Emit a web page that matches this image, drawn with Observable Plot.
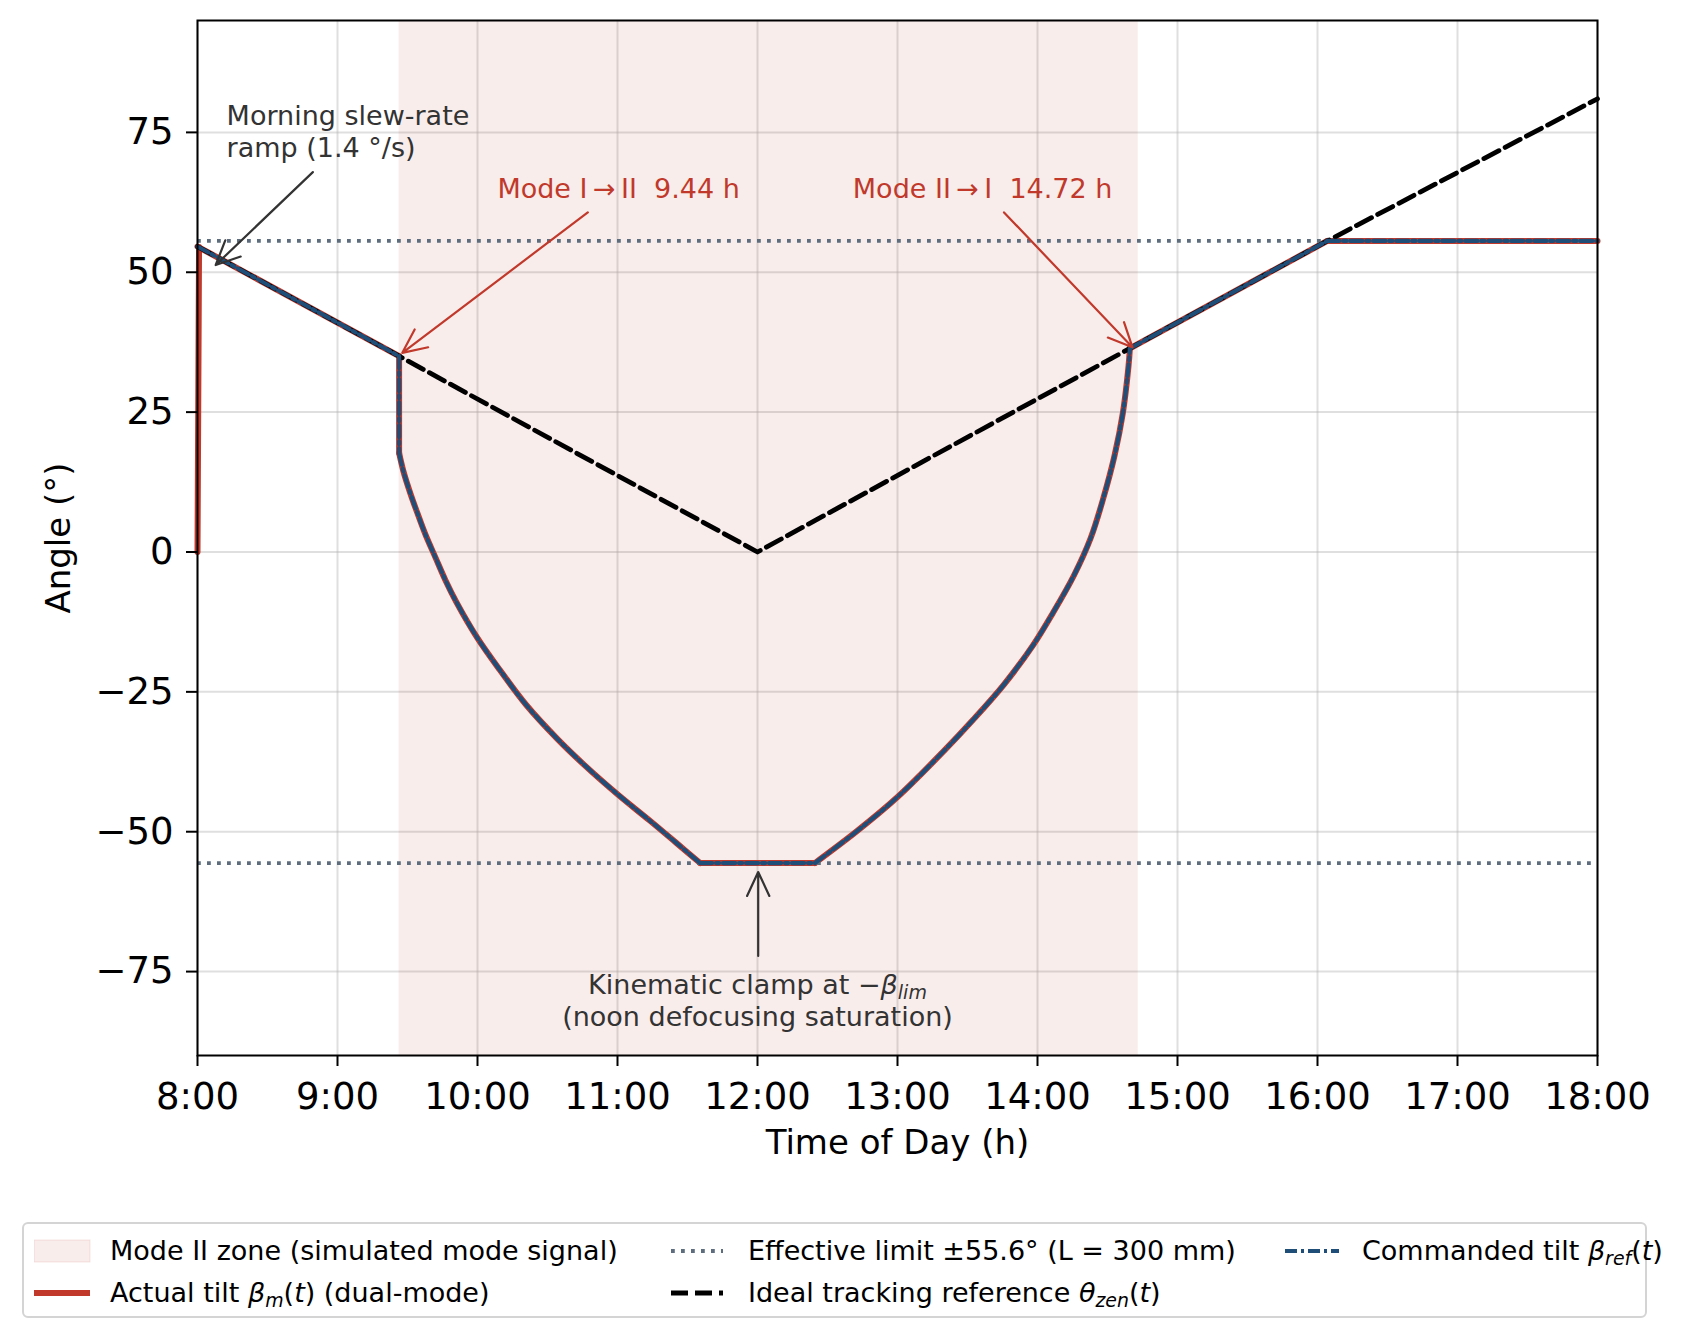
<!DOCTYPE html>
<html>
<head>
<meta charset="utf-8">
<script src="https://cdn.jsdelivr.net/npm/d3@7"></script>
<script src="https://cdn.jsdelivr.net/npm/@observablehq/plot@0.6"></script>
<style>
  html, body { margin: 0; padding: 0; background: #fff; }
  #wrap { position: relative; width: 1691px; height: 1336px; font-family: "DejaVu Sans", sans-serif; }
  svg text { white-space: pre; }
  #legend { position: absolute; left: 22px; top: 1222px; width: 1625px; height: 96px; box-sizing: border-box;
            border: 2px solid #d4d4d4; border-radius: 6px; background: #fff; font-size: 27px; color: #000; }
  .item { position: absolute; height: 40px; white-space: pre; }
  .item svg { position: absolute; left: 0; top: 0; }
  .item span { position: absolute; top: 50%; transform: translateY(-52%); white-space: pre; }
  sub { font-size: 0.7em; vertical-align: -0.25em; line-height: 0; }
</style>
</head>
<body>
<div id="wrap">
  <div id="chart"></div>
  <div id="legend"></div>
</div>
<script>
// ---------------- data ----------------
const xTicks = [8, 9, 10, 11, 12, 13, 14, 15, 16, 17, 18];
const yTicks = [-75, -50, -25, 0, 25, 50, 75];

// Mode II zone (hours)
const modeIIStart = 9.44;
const modeIIEnd = 14.72;

// Effective limit (deg)
const betaLim = 55.6;

// Ideal tracking reference theta_zen(t)
const idealT = [8.00, 9.44, 12.00, 14.66, 16.07, 18.00];
const idealV = [54.6, 35.0, 0.0, 36.4, 55.6, 81.0];

// Commanded tilt beta_ref(t)
const cmdT = [8.00, 9.44, 9.44, 9.47, 9.52, 9.57, 9.63, 9.70, 9.77, 9.85, 10.00, 10.16, 10.35, 10.57, 10.76,
              11.00, 11.23, 11.42, 11.59, 12.41, 12.71, 13.00, 13.33, 13.54, 13.76, 13.97, 14.11, 14.26,
              14.38, 14.47, 14.55, 14.61, 14.65, 14.66, 16.07, 18.00];
const cmdV = [54.6, 35.0, 17.7, 14.5, 10.5, 7.0, 3.0, -1.0, -5.0, -9.0, -15.4, -21.1, -27.4, -33.4, -38.0,
              -43.3, -48.0, -52.0, -55.6, -55.6, -49.9, -43.8, -35.6, -30.0, -23.7, -16.6, -10.9, -4.2,
              2.5, 9.6, 17.2, 24.9, 33.2, 36.4, 55.6, 55.6];
// indices in cmd arrays where the path changes from straight to curved pieces
const cmdBreaks = [0, 1, 2, 18, 19, 33, 34, 35];

// Actual tilt beta_m(t): morning slew ramp from 0 (1.4 °/s), then same path as commanded
const rampT = [8.000, 8.011];
const rampV = [0.0, 54.5];

// Annotations (data coordinates)
const annoLeft = [
  {t: 8.208, v: 75.3, text: "Morning slew-rate\nramp (1.4 °/s)", color: "#333333"}
];
const annoCenter = [
  {t: 11.008, v: 65.1, text: "Mode I\u2009\u2192\u2009II  9.44 h", color: "#c0392b"},
  {t: 13.608, v: 65.1, text: "Mode II\u2009\u2192\u2009I  14.72 h", color: "#c0392b"},
  {t: 12.0, v: -80.0, text: "Kinematic clamp at −βLIM\n(noon defocusing saturation)", color: "#333333"}
];
const annoArrows = [
  {t1: 8.824, v1: 67.9, t2: 8.130, v2: 51.3, color: "#333333"},
  {t1: 10.788, v1: 60.7, t2: 9.463, v2: 35.6, color: "#c0392b"},
  {t1: 13.761, v1: 60.7, t2: 14.678, v2: 36.6, color: "#c0392b"},
  {t1: 12.005, v1: -72.2, t2: 12.005, v2: -57.2, color: "#333333"}
];

// ---------------- tables ----------------
const ideal = idealT.map((t, i) => ({t, v: idealV[i]}));
// split the commanded path into pieces (straight pieces have 2 points, curved pieces many)
function pieces(T, V, breaks, prefix) {
  const out = [];
  for (let k = 0; k < breaks.length - 1; k++) {
    for (let i = breaks[k]; i <= breaks[k + 1]; i++) out.push({t: T[i], v: V[i], seg: prefix + k});
  }
  return out;
}
const commanded = pieces(cmdT, cmdV, cmdBreaks, "c");
const actual = rampT.map((t, i) => ({t, v: rampV[i], seg: "ramp"})).concat(pieces(cmdT, cmdV, cmdBreaks, "a"));

const RED = "#c0392b", BLUE = "#1f4e79", SLATE = "#5d6d7e";

const chart = Plot.plot({
  width: 1691,
  height: 1200,
  marginLeft: 197,
  marginRight: 94,
  marginTop: 20,
  marginBottom: 145,
  x: {domain: [8, 18]},
  y: {domain: [-90, 95]},
  style: {fontFamily: "DejaVu Sans", fontSize: "37px", color: "black", background: "white", overflow: "visible"},
  marks: [
    Plot.gridX(xTicks, {stroke: "#b0b0b0", strokeOpacity: 0.4, strokeWidth: 2}),
    Plot.gridY(yTicks, {stroke: "#b0b0b0", strokeOpacity: 0.4, strokeWidth: 2}),
    Plot.rectX([{a: modeIIStart, b: modeIIEnd}], {x1: "a", x2: "b", fill: RED, fillOpacity: 0.09}),
    Plot.line(actual, {x: "t", y: "v", z: "seg", stroke: RED, strokeWidth: 6, strokeLinecap: "round",
                       strokeLinejoin: "round", curve: "catmull-rom"}),
    Plot.ruleY([betaLim, -betaLim], {stroke: SLATE, strokeWidth: 3.8, strokeDasharray: "3.8,6.2"}),
    Plot.line(ideal, {x: "t", y: "v", stroke: "black", strokeWidth: 4.8, strokeDasharray: "17,7"}),
    Plot.line(commanded, {x: "t", y: "v", z: "seg", stroke: BLUE, strokeWidth: 4.2, strokeDasharray: "12,4,3,4",
                          curve: "catmull-rom"}),
    Plot.arrow(annoArrows, {x1: "t1", y1: "v1", x2: "t2", y2: "v2", stroke: "color", strokeWidth: 2.2,
                            headLength: 18, headAngle: 50}),
    Plot.text(annoLeft, {x: "t", y: "v", text: "text", fill: "color", textAnchor: "start", lineAnchor: "middle",
                         fontSize: 27, lineHeight: 1.18}),
    Plot.text(annoCenter, {x: "t", y: "v", text: "text", fill: "color", textAnchor: "middle", lineAnchor: "middle",
                           fontSize: 27, lineHeight: 1.18}),
    Plot.frame({stroke: "black", strokeWidth: 2}),
    Plot.axisX(xTicks, {tickFormat: d => `${d}:00`, tickSize: 11, tickPadding: 16, strokeWidth: 2, label: null, fontSize: 37}),
    Plot.axisY(yTicks, {tickSize: 11, tickPadding: 13, strokeWidth: 2, label: null, fontSize: 37}),
    Plot.text(["Time of Day (h)"], {frameAnchor: "bottom", dy: 88, textAnchor: "middle", lineAnchor: "middle", fontSize: 34}),
    Plot.text(["Angle (°)"], {frameAnchor: "left", dx: -138, rotate: -90, textAnchor: "middle", lineAnchor: "middle", fontSize: 34})
  ]
});

// render the −β_lim mathtext with italic + subscript
chart.querySelectorAll("tspan, text").forEach(el => {
  if (el.childElementCount === 0 && el.textContent.endsWith("−βLIM")) {
    el.textContent = "Kinematic clamp at −";
    const ns = "http://www.w3.org/2000/svg";
    const b = document.createElementNS(ns, "tspan");
    b.setAttribute("font-style", "italic");
    b.textContent = "β";
    const s = document.createElementNS(ns, "tspan");
    s.setAttribute("font-style", "italic");
    s.setAttribute("font-size", "19");
    s.setAttribute("baseline-shift", "-5");
    s.textContent = "lim";
    el.appendChild(b);
    el.appendChild(s);
  }
});
document.getElementById("chart").appendChild(chart);

// ---------------- legend ----------------
const legendItems = [
  {x: 10, y: 7, swatch: `<rect x="0" y="9" width="56" height="22" fill="${RED}" fill-opacity="0.09" stroke="${RED}" stroke-opacity="0.12"/>`,
   label: "Mode II zone (simulated mode signal)"},
  {x: 10, y: 49, swatch: `<line x1="0" y1="20" x2="56" y2="20" stroke="${RED}" stroke-width="6"/>`,
   label: "Actual tilt <i>β</i><sub><i>m</i></sub>(<i>t</i>) (dual-mode)"},
  {x: 647, y: 7, swatch: `<line x1="0" y1="20" x2="52" y2="20" stroke="${SLATE}" stroke-width="3.8" stroke-dasharray="3.8,6.2"/>`,
   label: "Effective limit ±55.6° (L = 300 mm)"},
  {x: 647, y: 49, swatch: `<line x1="0" y1="20" x2="52" y2="20" stroke="black" stroke-width="4.8" stroke-dasharray="17,7"/>`,
   label: "Ideal tracking reference <i>θ</i><sub><i>zen</i></sub>(<i>t</i>)"},
  {x: 1261, y: 7, swatch: `<line x1="0" y1="20" x2="54" y2="20" stroke="${BLUE}" stroke-width="4.2" stroke-dasharray="12,4,3,4"/>`,
   label: "Commanded tilt <i>β</i><sub><i>ref</i></sub>(<i>t</i>)"}
];
const legend = document.getElementById("legend");
legendItems.forEach(it => {
  const d = document.createElement("div");
  d.className = "item";
  d.style.left = it.x + "px";
  d.style.top = it.y + "px";
  d.style.width = "600px";
  d.innerHTML = `<svg width="60" height="40">${it.swatch}</svg><span style="left:${it.x === 10 ? 76 : 77}px">${it.label}</span>`;
  legend.appendChild(d);
});
</script>
</body>
</html>
